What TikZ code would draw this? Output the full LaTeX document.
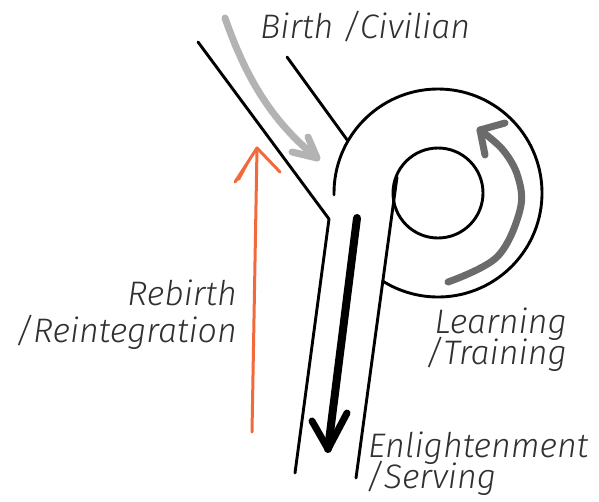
\documentclass[tikz,border=0pt]{standalone}
\usepackage{fontspec}
\usetikzlibrary{calc}
\newfontfamily\labfont{Fira Sans Light Italic}
\definecolor{lightarrow}{HTML}{B3B3B3}
\definecolor{darkarrow}{HTML}{6B6B6B}
\definecolor{orangearrow}{HTML}{F26A3B}
\definecolor{labelgray}{HTML}{303030}
\begin{document}
\begin{tikzpicture}[x=1pt,y=-1pt,
  wall/.style={line width=2.9pt, line cap=round, line join=round, black},
  thickarrow/.style={line width=8pt, line cap=round, line join=round},
  lab/.style={inner sep=0pt, text=labelgray, text depth=0pt, font=\labfont\fontsize{34}{34}\selectfont}]
\useasboundingbox (0,0) rectangle (599,501);
\coordinate (C) at (438,193);
% channel walls
\coordinate (lt) at (198,42);
\coordinate (lk) at (329,219);
\coordinate (lb) at (295,473);
\coordinate (rt) at (287,57);
\coordinate (rj) at ($(C)+(210:104)$);
\draw[wall] (lt) -- (lk) -- (lb);
\draw[wall] (rt) -- (rj);
\draw[wall] (C) ++(179:104) arc[start angle=179, end angle=482, radius=104];
\draw[wall] (C) circle[radius=45];
\draw[wall] (397,177) -- (356,478);
% light gray arrow
\draw[thickarrow, lightarrow, line width=7pt] (225,18) .. controls (245,75) and (270,120) .. (317,158);
\draw[thickarrow, lightarrow, line width=7pt] (308,137) -- (317,158) -- (292,152);
% dark gray arrow
\draw[thickarrow, darkarrow, line width=7pt] plot[smooth, tension=0.6] coordinates {(448,282) (497,257) (520,210) (518,177) (503,150) (480,130)};
\draw[thickarrow, darkarrow, line width=7pt] (505,123) -- (480,130) -- (485,155);
% black arrow
\draw[thickarrow, black] (357,218) -- (328,449);
\draw[thickarrow, black, line width=7pt] (312,421) -- (328,449) -- (347,413);
% orange arrow
\draw[orangearrow, line width=3pt, line cap=round, line join=round] (252,432) -- (257,148);
\draw[orangearrow, line width=3pt, line cap=round, line join=round] (235,182) -- (257,148) -- (280,172);
\fill[orangearrow] (257,148) -- (234,182) -- (240,180) -- cycle;
% labels
\node[lab, anchor=base west] (birth) at (260,38) {Birth /Civilian};
\node[lab, anchor=base east] (rebirth) at (237,305) {Rebirth};
\node[lab, anchor=base east] (reint) at (237,342) {/Reintegration};
\node[lab, anchor=base east] (learn) at (567,333) {Learning};
\node[lab, anchor=base east] (train) at (567,364) {/Training};
\node[lab, anchor=base west] (enl) at (368,457) {Enlightenment};
\node[lab, anchor=base west] (serv) at (366,488) {/Serving};
\end{tikzpicture}
\end{document}
